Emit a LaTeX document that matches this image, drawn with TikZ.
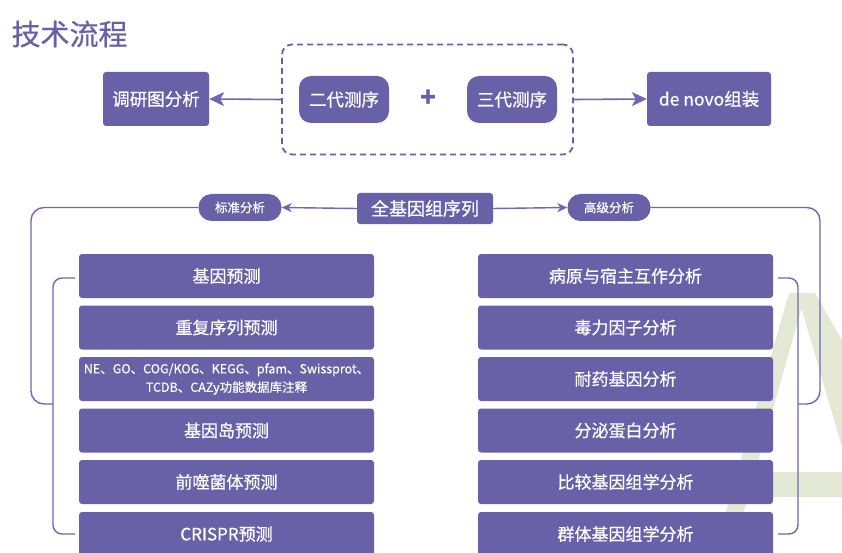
\documentclass[tikz,border=0pt]{standalone}
\usepackage{fontspec}
\setmainfont{Noto Sans CJK SC}[FakeBold=0.6]
\usetikzlibrary{arrows.meta}
\definecolor{flowpurple}{RGB}{105,97,168}
\definecolor{linkpurple}{RGB}{112,102,182}
\definecolor{markgreen}{RGB}{228,233,213}
\tikzset{stepbox/.style = {fill=flowpurple, text=white, rounded corners=3pt,
                           inner sep=0pt, align=center,
                           font=\fontsize{17}{19}\selectfont},
         rowbox/.style = {stepbox, minimum width=295pt, minimum height=44pt},
         seqbox/.style = {stepbox, rounded corners=12pt,
                          minimum width=90pt, minimum height=47pt,
                          font=\fontsize{17.5}{20}\selectfont},
         pill/.style = {stepbox, rounded corners=13pt,
                        minimum width=83pt, minimum height=27pt,
                        font=\fontsize{12.5}{14}\selectfont},
         link/.style = {draw=linkpurple, line width=1.4pt},
         bigarrow/.style = {link, line width=1.6pt,
                            -{Stealth[length=15pt, width=14pt, inset=4pt]}},
         smallarrow/.style = {link, -{Stealth[length=10pt, width=9pt, inset=3pt]}}}

\begin{document}
\begin{tikzpicture}[x=1pt, y=-1pt]
      \useasboundingbox (0,0) rectangle (842,553);

      % watermark behind everything
      \fill [markgreen] (714,553) -- (789,293) -- (806,293) -- (732,553) -- cycle;
      \fill [markgreen] (797,293) -- (815,293) -- (842,340) -- (842,447) -- cycle;
      \fill [markgreen] (745,472) -- (842,472) -- (842,497) -- (745,497) -- cycle;

      \node [anchor=west, text=flowpurple, font=\fontsize{29}{32}\selectfont] (title) at (8,34) {技术流程};

      % sequencing
      \node [draw=flowpurple, dash pattern=on 6pt off 4pt, line width=1.8pt, rounded corners=10pt,
             minimum width=291pt, minimum height=110pt] (seq) at (427.5,99.5) {};
      \node [seqbox] (ngs) at (344,99.5) {二代测序};
      \node [seqbox] (tgs) at (512,99.5) {三代测序};
      \node [text=flowpurple, font=\fontsize{26}{26}\selectfont\bfseries] (plus) at (428,98) {+};
      \node [stepbox, minimum width=106pt, minimum height=54pt,
             font=\fontsize{17.5}{20}\selectfont] (survey) at (156,99) {调研图分析};
      \node [stepbox, minimum width=124pt, minimum height=54pt,
             font=\fontsize{17.5}{20}\selectfont] (denovo) at (709,99) {de novo组装};
      \draw [bigarrow] (seq.west) -- (survey.east);
      \draw [bigarrow] (seq.east) -- (denovo.west);

      % genome
      \node [stepbox, minimum width=136pt, minimum height=31pt,
             font=\fontsize{18}{20}\selectfont] (genome) at (425,208.5) {全基因组序列};
      \node [pill] (std) at (240,207.5) {标准分析};
      \node [pill] (adv) at (609,207.5) {高级分析};
      \draw [smallarrow] (genome.west) -- (std.east);
      \draw [smallarrow] (genome.east) -- (adv.west);

      % standard analysis
      \node [rowbox] (gene) at (226.5,276) {基因预测};
      \node [rowbox] (repeat) at (226.5,327.5) {重复序列预测};
      \node [rowbox, font=\fontsize{12.5}{18.5}\selectfont] (annot) at (226.5,379)
            {NE、GO、COG/KOG、KEGG、pfam、Swissprot、\\TCDB、CAZy功能数据库注释};
      \node [rowbox] (island) at (226.5,430.5) {基因岛预测};
      \node [rowbox] (phage) at (226.5,482) {前噬菌体预测};
      \node [rowbox] (crispr) at (226.5,534) {CRISPR预测};

      % advanced analysis
      \node [rowbox] (host) at (625.5,276) {病原与宿主互作分析};
      \node [rowbox] (vir) at (625.5,327.5) {毒力因子分析};
      \node [rowbox] (resist) at (625.5,379) {耐药基因分析};
      \node [rowbox] (secret) at (625.5,430.5) {分泌蛋白分析};
      \node [rowbox] (compar) at (625.5,482) {比较基因组学分析};
      \node [rowbox] (popul) at (625.5,534) {群体基因组学分析};

      % brackets
      \coordinate (ltop) at (75,278);
      \coordinate (lbot) at (75,534);
      \coordinate (ljoin) at (53,404);
      \coordinate (rtop) at (778,278);
      \coordinate (rbot) at (778,534);
      \coordinate (rjoin) at (798,404);
      \draw [link, rounded corners=9pt] (ltop) -- (53,278) -- (53,534) -- (lbot);
      \draw [link, rounded corners=9pt] (rtop) -- (798,278) -- (798,534) -- (rbot);
      \draw [link, rounded corners=13pt] (std.west) -| (31,404) -- (ljoin);
      \draw [link, rounded corners=13pt] (adv.east) -| (820,404) -- (rjoin);
    \end{tikzpicture}
\end{document}
